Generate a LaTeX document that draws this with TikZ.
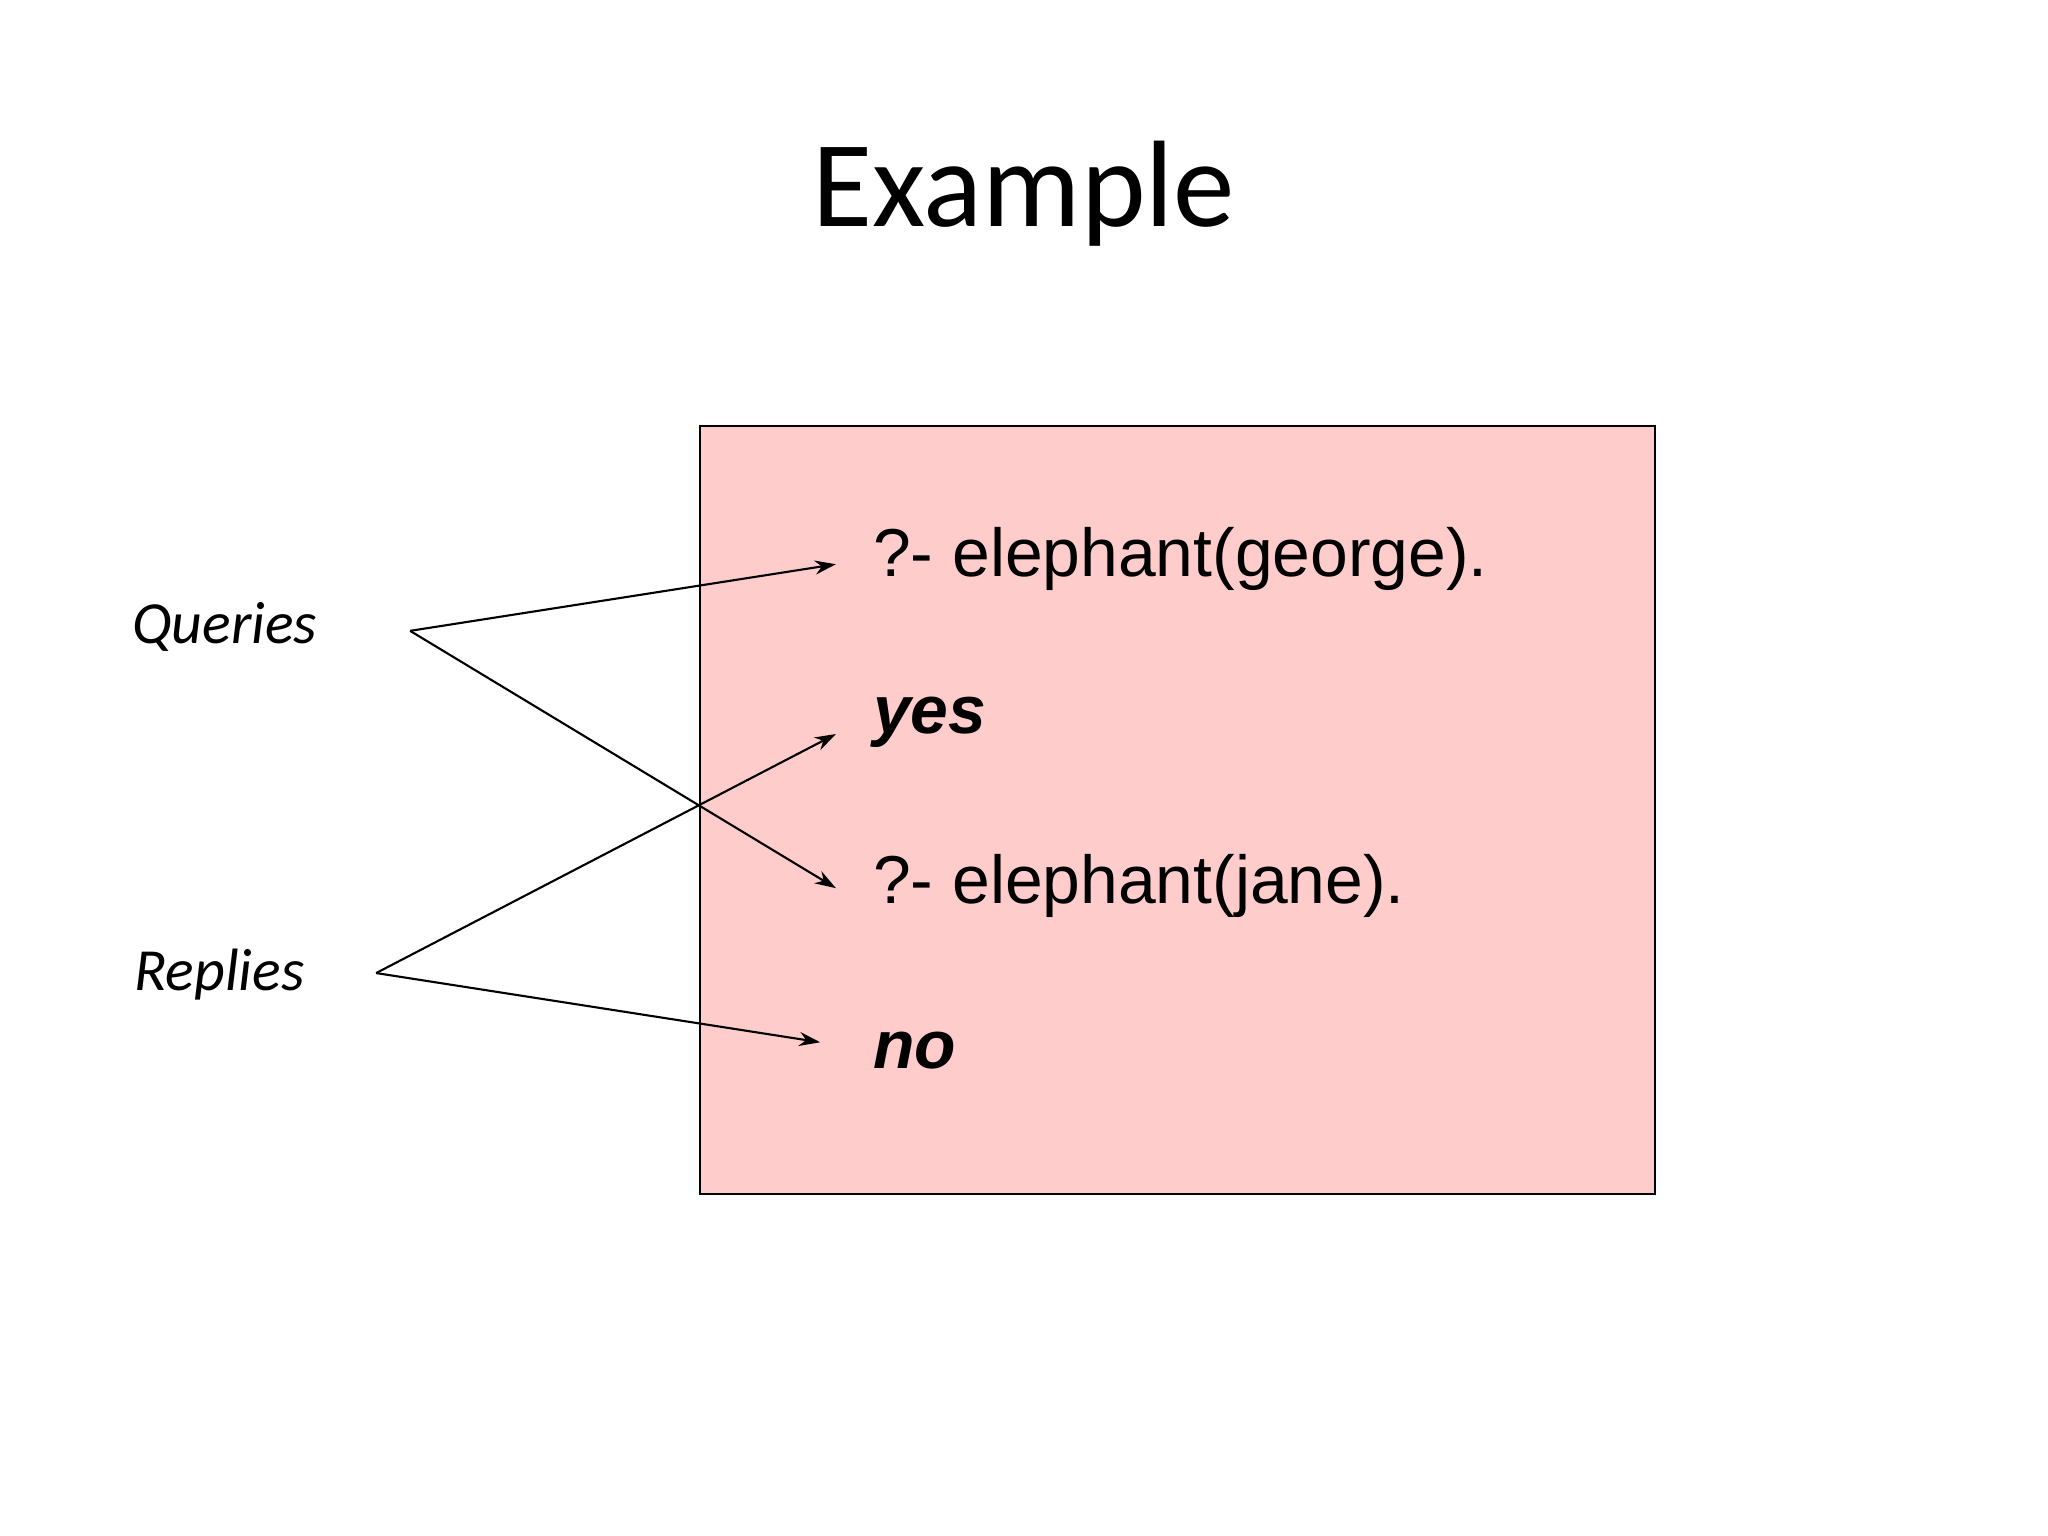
\documentclass[tikz,border=0pt]{standalone}
\usepackage{fontspec}
\setmainfont{Carlito}
\newfontfamily\arialf{Liberation Sans}
\usetikzlibrary{arrows.meta}
\begin{document}
\begin{tikzpicture}[x=0.01306cm,y=-0.01306cm,
  code/.style={anchor=west,font=\arialf\fontsize{19.3}{23}\selectfont,inner sep=0},
  lab/.style={font=\itshape\fontsize{17}{20}\selectfont,inner sep=0},
  arr/.style={-{Stealth[length=6pt,width=4pt]},line width=0.6pt}]
\useasboundingbox (0,0) rectangle (1568,1176);
\node[font=\fontsize{35}{42}\selectfont] (title) at (784,148) {Example};
\draw[fill={rgb,255:red,255;green,204;blue,204},line width=0.6pt] (536,326) rectangle (1267,914);
\node[code] (q1) at (668,428) {?- elephant(george).};
\node[code,font=\arialf\bfseries\itshape\fontsize{19.3}{23}\selectfont] (yes) at (668,553) {yes};
\node[code] (q2) at (668,678) {?- elephant(jane).};
\node[code,font=\arialf\bfseries\itshape\fontsize{19.3}{23}\selectfont] (no) at (668,804) {no};
\node[lab] (queries) at (172,480) {Queries};
\node[lab] (replies) at (168,746) {Replies};
\coordinate (qp) at (314,483);
\coordinate (rp) at (288,745);
\coordinate (t1) at (640,432);
\coordinate (t2) at (640,680);
\coordinate (t3) at (640,562);
\coordinate (t4) at (628,798);
\draw[arr] (qp) -- (t1);
\draw[arr] (qp) -- (t2);
\draw[arr] (rp) -- (t3);
\draw[arr] (rp) -- (t4);
\end{tikzpicture}
\end{document}
